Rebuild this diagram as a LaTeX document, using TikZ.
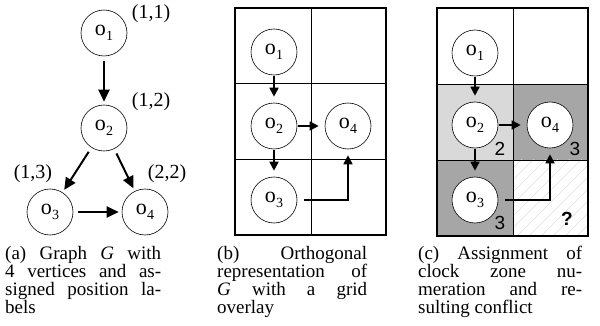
\documentclass[tikz,border=0pt]{standalone}
\usepackage{fontspec}
\setmainfont{Liberation Serif}
\setsansfont{Liberation Sans}
\usetikzlibrary{arrows.meta}
\newcommand{\ov}[1]{o\kern0.3pt\raisebox{-5pt}{\fontsize{14}{14}\selectfont #1}}
\definecolor{lightcell}{gray}{0.85}
\definecolor{darkcell}{gray}{0.65}
\begin{document}
\begin{tikzpicture}[x=1pt,y=-1pt,
  vtx/.style={circle,draw,line width=0.6pt,minimum size=46pt,inner sep=0pt,fill=white,font=\fontsize{22}{22}\selectfont},
  lbl/.style={inner sep=0pt,font=\fontsize{20}{20}\selectfont},
  arrA/.style={line width=2pt,-{Triangle[length=12pt,width=11pt]},shorten <=5pt,shorten >=3pt},
  arrB/.style={line width=1.7pt,-{Triangle[length=9pt,width=9pt]},shorten <=1pt,shorten >=6pt},
  gridline/.style={line width=0.6pt},
  frameline/.style={line width=1.8pt},
  num/.style={inner sep=0pt,font=\sffamily\fontsize{19}{19}\selectfont},
  captext/.style={anchor=base west,inner sep=0pt,font=\fontsize{19}{18}\selectfont}]
\useasboundingbox (0,0) rectangle (600,326);

% ---------- panel (a)
\node[vtx] (a1) at (104,33) {\ov1};
\node[vtx] (a2) at (104,128) {\ov2};
\node[vtx] (a3) at (50,212) {\ov3};
\node[vtx] (a4) at (145,212) {\ov4};
\node[lbl] (l11) at (151,14) {(1,1)};
\node[lbl] (l12) at (151,102) {(1,2)};
\node[lbl] (l13) at (33,174) {(1,3)};
\node[lbl] (l22) at (167,174) {(2,2)};
\draw[arrA] (a1) -- (a2);
\draw[arrA] (a2) -- (a3);
\draw[arrA] (a2) -- (a4);
\draw[arrA] (a3) -- (a4);

% ---------- panel (b)
\draw[gridline] (311,8) -- (311,235) (235,83) -- (386,83) (235,159) -- (386,159);
\draw[frameline] (235,8) rectangle (386,235);
\node[vtx] (b1) at (274,52) {\ov1};
\node[vtx] (b2) at (274,126) {\ov2};
\node[vtx] (b4) at (348,126) {\ov4};
\node[vtx] (b3) at (274,200) {\ov3};
\draw[arrB] (b1) -- (b2);
\draw[arrB] (b2) -- (b3);
\draw[arrB] (b2) -- (b4);
\draw[arrB,shorten <=7pt] (b3) -| (b4);

% ---------- panel (c)
\fill[lightcell] (437,84) rectangle (513,160);
\fill[darkcell] (513,84) rectangle (588,160);
\fill[darkcell] (437,160) rectangle (513,236);
\begin{scope}
  \clip (513,160) rectangle (588,236);
  \foreach \i in {0,12,...,168} \draw[gray!25,line width=0.5pt] (433+\i,236) -- ++(80,-80);
\end{scope}
\draw[gridline] (513,8) -- (513,236) (437,84) -- (588,84) (437,160) -- (588,160);
\draw[frameline] (437,8) rectangle (588,236);
\node[vtx] (c1) at (475,53) {\ov1};
\node[vtx] (c2) at (475,125) {\ov2};
\node[vtx] (c4) at (550,125) {\ov4};
\node[vtx] (c3) at (475,200) {\ov3};
\draw[arrB] (c1) -- (c2);
\draw[arrB] (c2) -- (c3);
\draw[arrB] (c2) -- (c4);
\draw[arrB,shorten <=7pt] (c3) -| (c4);
\node[num] (n2) at (500,149) {2};
\node[num] (n4) at (575,149) {3};
\node[num] (n3) at (500,223) {3};
\node[num,font=\sffamily\bfseries\fontsize{19}{19}\selectfont] (q) at (567,219) {?};

% ---------- captions
\node[captext] (capa) at (5,259) {\begin{minipage}[t]{156pt}%
\makebox[\linewidth][s]{(a) Graph \textit{G} with}\par
\makebox[\linewidth][s]{4 vertices and as-}\par
\makebox[\linewidth][s]{signed position la-}\par
bels\end{minipage}};
\node[captext] (capb) at (217,259) {\begin{minipage}[t]{150pt}%
\makebox[\linewidth][s]{(b) Orthogonal}\par
\makebox[\linewidth][s]{representation of}\par
\makebox[\linewidth][s]{\textit{G} with a grid}\par
overlay\end{minipage}};
\node[captext] (capc) at (418,259) {\begin{minipage}[t]{164pt}%
\makebox[\linewidth][s]{(c) Assignment of}\par
\makebox[\linewidth][s]{clock zone nu-}\par
\makebox[\linewidth][s]{meration and re-}\par
sulting conflict\end{minipage}};
\end{tikzpicture}
\end{document}
